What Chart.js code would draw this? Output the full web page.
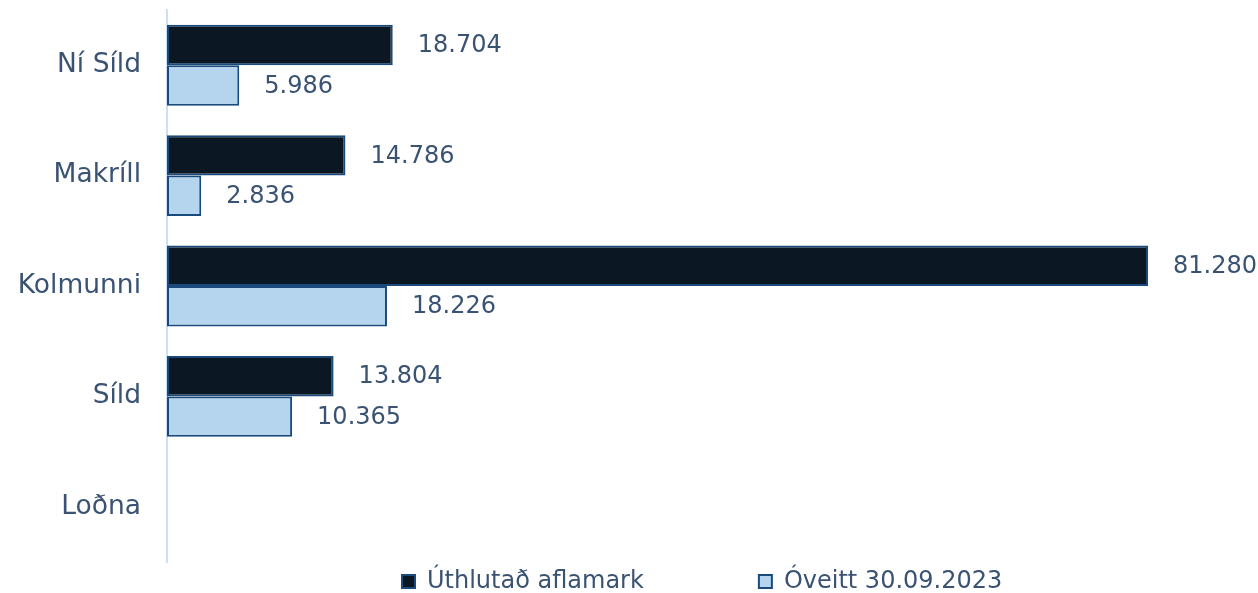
<!DOCTYPE html>
<html>
<head>
<meta charset="utf-8">
<script src="https://cdn.jsdelivr.net/npm/chart.js@4/dist/chart.umd.min.js"></script>
<style>
  html, body { margin: 0; padding: 0; background: #ffffff; overflow: hidden; }
  #wrap { width: 1258px; height: 593px; position: relative; }
</style>
</head>
<body>
<div id="wrap"><canvas id="c" width="1258" height="593"></canvas></div>
<script>
const categories = ['Ní Síld', 'Makríll', 'Kolmunni', 'Síld', 'Loðna'];
const seriesNames = ['Úthlutað aflamark', 'Óveitt 30.09.2023'];
const allocated = [18704, 14786, 81280, 13804, null];
const remaining = [5986, 2836, 18226, 10365, null];

const TEXT = '#3a5373';
const FONT = "'DejaVu Sans', Verdana, sans-serif";
const LEGEND_GAP = 115;

function fmt(v) {
  return String(v).replace(/\B(?=(\d{3})+(?!\d))/g, '.');
}

const valueLabels = {
  id: 'valueLabels',
  afterDatasetsDraw(chart) {
    const ctx = chart.ctx;
    ctx.save();
    ctx.font = '24px ' + FONT;
    ctx.fillStyle = TEXT;
    ctx.textAlign = 'left';
    ctx.textBaseline = 'middle';
    chart.data.datasets.forEach((ds, di) => {
      const meta = chart.getDatasetMeta(di);
      meta.data.forEach((bar, i) => {
        const v = ds.data[i];
        if (v === null || v === undefined) return;
        ctx.fillText(fmt(v), bar.x + 25, bar.y + 1);
      });
    });
    ctx.restore();
  }
};

const legendPlace = {
  id: 'legendPlace',
  afterLayout(chart) {
    const lg = chart.legend;
    if (!lg || !lg.lineWidths) return;
    lg.top = 569.5 - LEGEND_GAP;
    lg.bottom = 593;
    const lw = lg.lineWidths[0];
    const cur = (lg.left + LEGEND_GAP + lg.right - lw) / 2;
    const d = 402 - cur;
    lg.left += d;
    lg.right += d;
  }
};

new Chart(document.getElementById('c'), {
  type: 'bar',
  data: {
    labels: categories,
    datasets: [
      {
        label: seriesNames[0],
        data: allocated,
        backgroundColor: '#0b1723',
        borderColor: '#1a4a7c',
        borderWidth: 2,
        borderSkipped: false,
        categoryPercentage: 0.733,
        barPercentage: 1.0
      },
      {
        label: seriesNames[1],
        data: remaining,
        backgroundColor: '#b5d5ee',
        borderColor: '#1a4a7c',
        borderWidth: 2,
        borderSkipped: false,
        categoryPercentage: 0.733,
        barPercentage: 1.0
      }
    ]
  },
  options: {
    indexAxis: 'y',
    responsive: false,
    animation: false,
    devicePixelRatio: 1,
    layout: { padding: { top: 10, right: 110, left: 0, bottom: 0 } },
    scales: {
      x: {
        display: false,
        min: 0,
        max: 81280
      },
      y: {
        grid: { display: false, drawTicks: false },
        border: { display: true, color: '#cbe0f4', width: 2 },
        ticks: {
          padding: 26,
          color: TEXT,
          font: { family: FONT, size: 26.5 }
        },
        afterFit(scale) {
          scale.width = 167;
          scale.paddingTop = 0;
          scale.paddingBottom = 0;
        }
      }
    },
    plugins: {
      legend: {
        position: 'bottom',
        maxHeight: 31,
        labels: {
          boxWidth: 13,
          boxHeight: 13,
          padding: LEGEND_GAP,
          color: TEXT,
          font: { family: FONT, size: 24 }
        }
      },
      tooltip: { enabled: false }
    }
  },
  plugins: [valueLabels, legendPlace]
});
</script>
</body>
</html>
